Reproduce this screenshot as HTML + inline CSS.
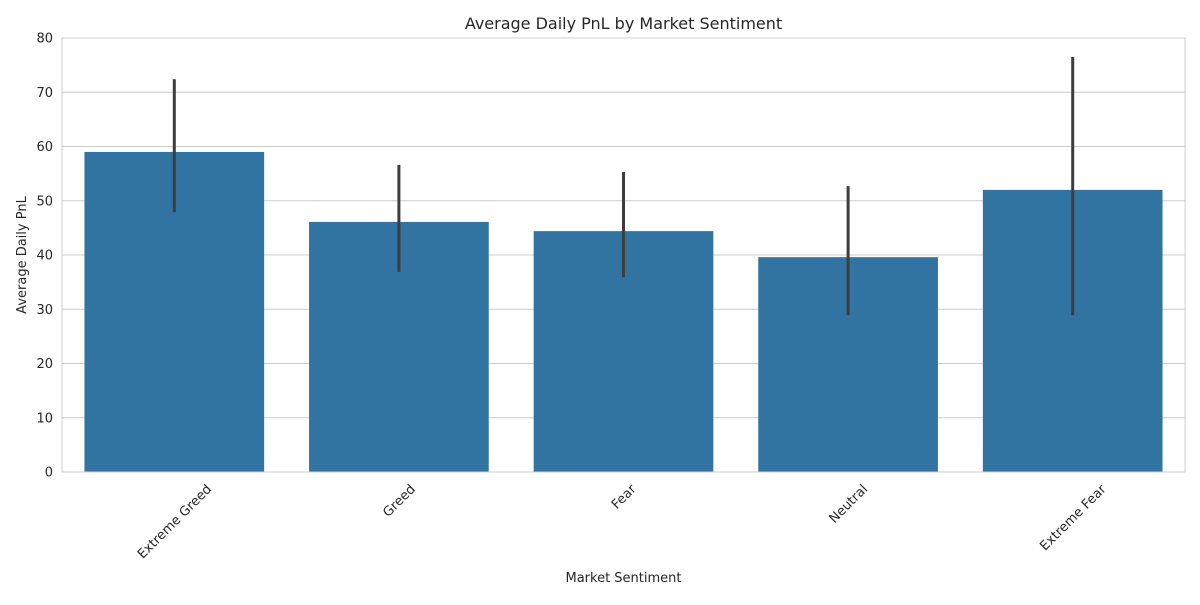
<!DOCTYPE html>
<html><head><meta charset="utf-8"><style>
body{margin:0;background:#fff;font-family:"Liberation Sans","DejaVu Sans",sans-serif;}
svg text{font-family:"DejaVu Sans","Liberation Sans",sans-serif;fill:#262626;}
</style></head><body>
<svg id="chart" width="1200" height="600" xmlns="http://www.w3.org/2000/svg"></svg>
<script>
const categories = ["Extreme Greed","Greed","Fear","Neutral","Extreme Fear"];
const means = [59.0,46.1,44.4,39.6,52.0];
const ciLow = [47.9,36.9,35.9,28.9,28.9];
const ciHigh = [72.4,56.6,55.3,52.7,76.5];
const yTicks = [0,10,20,30,40,50,60,70,80];

const svg = document.getElementById('chart');
const NS = 'http://www.w3.org/2000/svg';
const L=62,R=1185,T=38,B=472,yMax=80;
const y = v => B - (v/yMax)*(B-T);
const band = (R-L)/categories.length;
const xc = i => L + band*(i+0.5);
function mk(tag, attrs, parent){const e=document.createElementNS(NS,tag);for(const k in attrs)e.setAttribute(k,attrs[k]);(parent||svg).appendChild(e);return e;}

const grid = mk('g',{});


yTicks.forEach(t=>{
  mk('line',{x1:L,x2:R,y1:y(t),y2:y(t),stroke:'#cccccc','stroke-width':1},grid);
  const lb=mk('text',{x:L-9,y:y(t)+4.5,'text-anchor':'end','font-size':13},grid);
  lb.textContent=t;
  
  
});

const bars = mk('g',{});


categories.forEach((c,i)=>{
  const w=band*0.8;
  const r=mk('rect',{x:xc(i)-w/2,y:y(means[i]),width:w,height:B-y(means[i]),fill:'#3274a1'},bars);
  
  
  const e=mk('line',{x1:xc(i),x2:xc(i),y1:y(ciHigh[i]),y2:y(ciLow[i]),stroke:'#3d3d3d','stroke-width':3},bars);
  
  
  const lb=mk('text',{'text-anchor':'middle','font-size':13});
  lb.textContent=c;
  
  
  const tw=lb.getComputedTextLength();
  const cy=B+10+(tw+13)*0.3536;
  lb.setAttribute('transform',`translate(${xc(i)},${cy}) rotate(-45) translate(0,4.5)`);
});

const frame=mk('rect',{x:L,y:T,width:R-L,height:B-T,fill:'none',stroke:'#cccccc','stroke-width':1});



const title=mk('text',{x:(L+R)/2,y:29,'text-anchor':'middle','font-size':16});
title.textContent='Average Daily PnL by Market Sentiment';


const xt=mk('text',{x:(L+R)/2,y:582,'text-anchor':'middle','font-size':13});
xt.textContent='Market Sentiment';


const yt=mk('text',{'text-anchor':'middle','font-size':13,transform:`translate(26,${(T+B)/2}) rotate(-90)`});
yt.textContent='Average Daily PnL';


</script>
</body></html>
